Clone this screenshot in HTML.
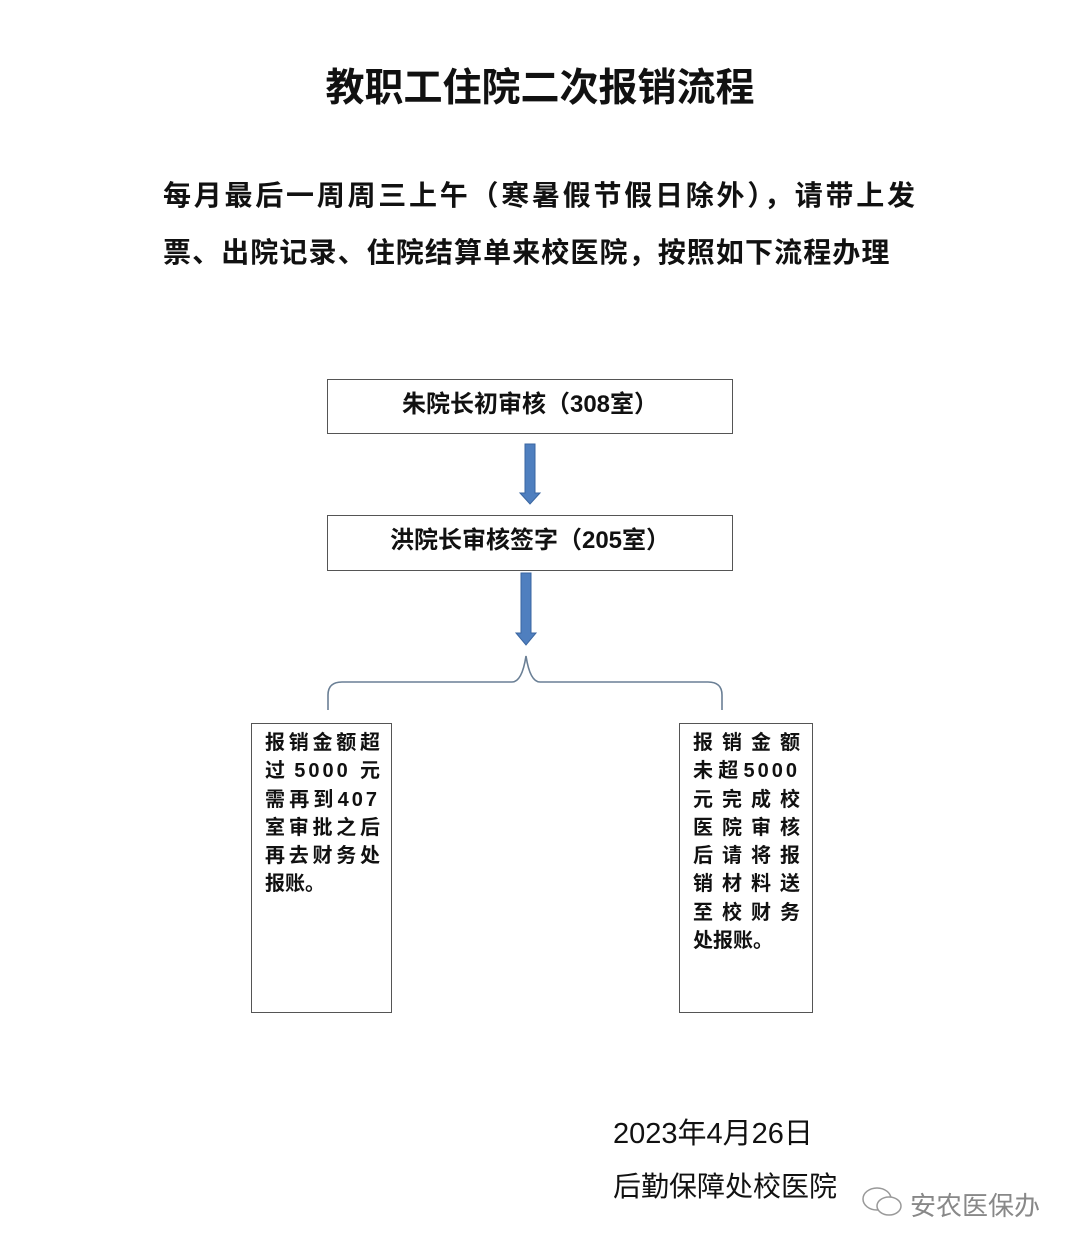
<!DOCTYPE html>
<html><head><meta charset="utf-8"><style>
body{margin:0;width:1080px;height:1251px;background:#fff;position:relative;overflow:hidden;font-family:"Liberation Sans","Noto Sans CJK SC",sans-serif;color:#111}
.a{position:absolute;white-space:nowrap}
.box{position:absolute;border:1px solid #555;background:#fff;box-sizing:border-box}
.j div{text-align:justify;text-align-last:justify;height:28.3px;line-height:28.3px}
.j div.l{text-align-last:left}
.d{letter-spacing:3px}
</style></head><body>
<div class="a" style="left:0;width:1080px;text-align:center;top:57px;font-size:39px;font-weight:bold">教职工住院二次报销流程</div>
<div class="a" style="left:163px;top:174px;font-size:28px;font-weight:bold;letter-spacing:2.75px">每月最后一周周三上午（寒暑假节假日除外），请带上发</div>
<div class="a" style="left:163px;top:231px;font-size:28px;font-weight:bold;letter-spacing:1.1px">票、出院记录、住院结算单来校医院，按照如下流程办理</div>

<div class="box" style="left:327px;top:379px;width:406px;height:55px"></div>
<div class="a" style="left:327px;width:406px;text-align:center;top:384px;font-size:24px;font-weight:bold">朱院长初审核（308室）</div>
<div class="box" style="left:327px;top:515px;width:406px;height:56px"></div>
<div class="a" style="left:327px;width:406px;text-align:center;top:520px;font-size:24px;font-weight:bold">洪院长审核签字（205室）</div>

<svg class="a" style="left:0;top:0" width="1080" height="1251">
<polygon points="525,444 535,444 535,493 540,493 530,504 520,493 525,493" fill="#4f7fbf" stroke="#3a66a0"/>
<polygon points="521,573 531,573 531,633 536,633 526,645 516,633 521,633" fill="#4f7fbf" stroke="#3a66a0"/>
<path d="M328,710 V695 Q328,682 342,682 H512 Q522,682 526,656 Q530,682 540,682 H708 Q722,682 722,695 V710" fill="none" stroke="#6a7f95" stroke-width="1.6"/>
</svg>

<div class="box" style="left:251px;top:723px;width:141px;height:290px"></div>
<div class="a j" style="left:265px;top:729px;width:115px;font-size:20px;font-weight:bold">
<div>报销金额超</div><div>过<span class="d">5000</span>元</div><div>需再到<span class="d">407</span></div><div>室审批之后</div><div>再去财务处</div><div class="l">报账。</div></div>
<div class="box" style="left:679px;top:723px;width:134px;height:290px"></div>
<div class="a j" style="left:693px;top:729px;width:107px;font-size:20px;font-weight:bold">
<div>报销金额</div><div>未超<span class="d">5000</span></div><div>元完成校</div><div>医院审核</div><div>后请将报</div><div>销材料送</div><div>至校财务</div><div class="l">处报账。</div></div>

<div class="a" style="left:613px;top:1110px;font-size:29px">2023年4月26日</div>
<div class="a" style="left:613px;top:1165px;font-size:28px">后勤保障处校医院</div>
<svg class="a" style="left:860px;top:1185px" width="48" height="36">
<ellipse cx="17" cy="14" rx="14" ry="11" fill="none" stroke="#999" stroke-width="1.5"/>
<ellipse cx="29" cy="21" rx="12" ry="9" fill="#fff" stroke="#999" stroke-width="1.5"/>
</svg>
<div class="a" style="left:910px;top:1186px;font-size:26px;color:#888">安农医保办</div>
</body></html>
